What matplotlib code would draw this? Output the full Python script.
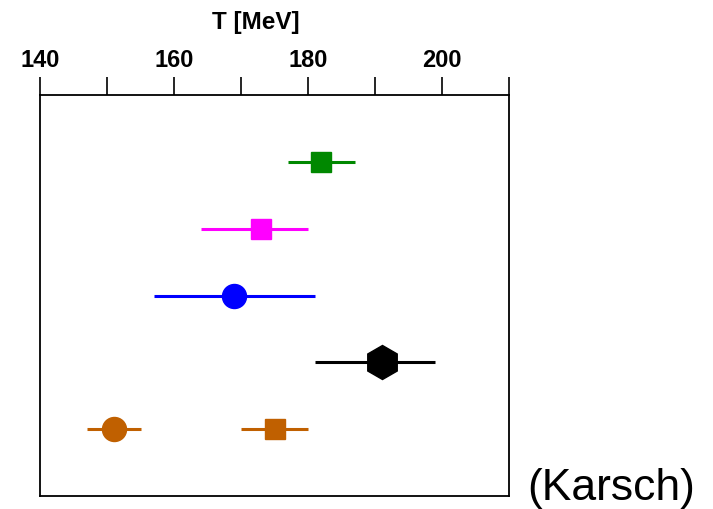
import matplotlib
matplotlib.use("Agg")
import matplotlib.pyplot as plt

plt.rcParams['font.family'] = ['Liberation Sans', 'DejaVu Sans']

# Data
rows = [1, 2, 3, 4, 5, 5]
temps = [182, 173, 169, 191, 151, 175]
err_lo = [5, 9, 12, 10, 4, 5]
err_hi = [5, 7, 12, 8, 4, 5]
colors = ['#008800', '#ff00ff', '#0000ff', '#000000', '#c06000', '#c06000']
markers = ['s', 's', 'o', 'h', 'o', 's']
msizes = [14.4, 14.4, 17.3, 24.5, 17.3, 14.4]

xticks = [140, 150, 160, 170, 180, 190, 200, 210]
xticklabels = ['140', '', '160', '', '180', '', '200', '']

W, H = 713, 510
fig = plt.figure(figsize=(W / 100, H / 100), dpi=100)
ax = fig.add_axes([40 / W, (H - 497) / H, (509 - 40) / W, (497 - 96) / H])

for r, t, lo, hi, c, m, ms in zip(rows, temps, err_lo, err_hi, colors, markers, msizes):
    ax.errorbar([t], [r], xerr=[[lo], [hi]], fmt=m, color=c, ms=ms, mec=c,
                elinewidth=2.2, capsize=0, zorder=3)

ax.set_xlim(140, 210)
ax.set_ylim(6, 0)
ax.set_yticks([])
ax.xaxis.tick_top()
ax.set_xticks(xticks)
ax.set_xticklabels(xticklabels, fontsize=17, fontweight='bold')
ax.tick_params(axis='x', direction='out', length=12.8, width=1.2, pad=4.5)
for s in ax.spines.values():
    s.set_linewidth(1.3)

fig.text(256 / W, 1 - 29 / H, 'T [MeV]', fontsize=17.5, fontweight='bold',
         ha='center', va='baseline')
fig.text(527 / W, 1 - 500 / H, '(Karsch)', fontsize=32, ha='left', va='baseline')

fig.savefig('out.png', dpi=100)
